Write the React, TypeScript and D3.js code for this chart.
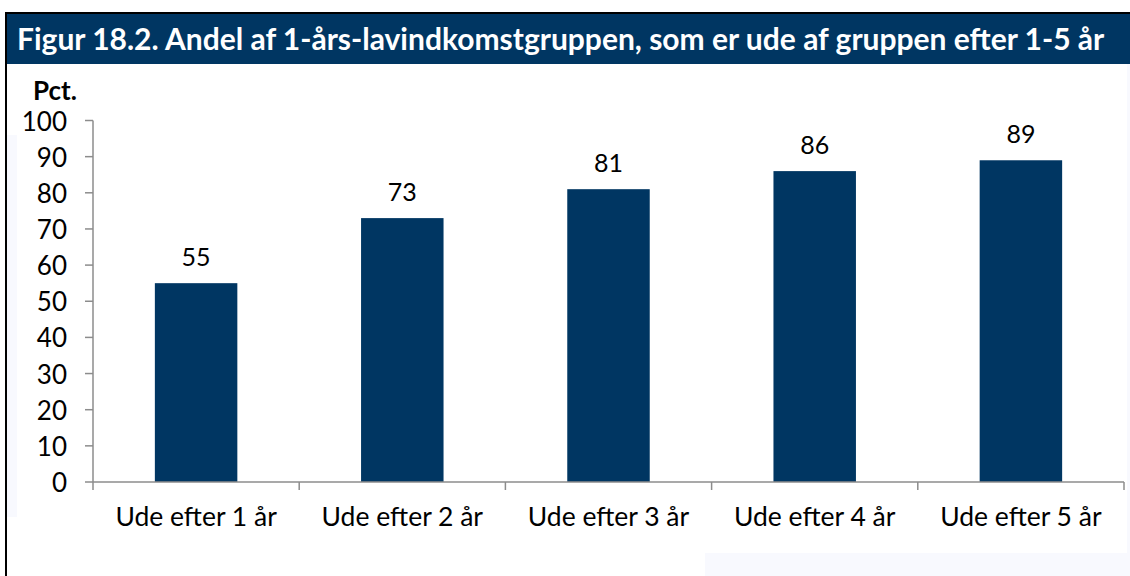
import React from "react";
import * as d3 from "d3";

const title = "Figur 18.2. Andel af 1-års-lavindkomstgruppen, som er ude af gruppen efter 1-5 år";
const unitLabel = "Pct.";
const categories = ["Ude efter 1 år", "Ude efter 2 år", "Ude efter 3 år", "Ude efter 4 år", "Ude efter 5 år"];
const values = [55, 73, 81, 86, 89];
const yTicks = [0, 10, 20, 30, 40, 50, 60, 70, 80, 90, 100];

const W = 1130;
const H = 576;
const BLUE = "#003662";
const AXIS = "#8c8c8c";
const FONT = "Lato, 'Open Sans', sans-serif";

export default function App() {
  const x0 = 93, x1 = 1124, yTop = 120.5, yBot = 482;
  const x = d3.scaleBand<string>().domain(categories).range([x0, x1]).paddingInner(0.6).paddingOuter(0.3);
  const xb = d3.scaleBand<string>().domain(categories).range([x0, x1]);
  const y = d3.scaleLinear().domain([0, 100]).range([yBot, yTop]);

  return (
    <svg width={W} height={H} style={{ position: "absolute", left: 0, top: 0, display: "block" }}>
      <rect x={0} y={0} width={W} height={H} fill="#ffffff" />
      {/* faint background patches */}
      <rect x={7} y={135} width={10} height={382} fill="#f8f9fe" />
      <rect x={705} y={553} width={425} height={23} fill="#f8f9fe" />
      <rect x={1127} y={64} width={3} height={512} fill="#f8f9fe" />
      {/* frame */}
      <rect x={5} y={12} width={W - 5} height={2} fill="#000" />
      <rect x={5} y={12} width={2} height={H - 12} fill="#000" />
      {/* title bar */}
      <rect x={7} y={14} width={W - 7} height={50} fill={BLUE} />
      <text x={17} y={50} fill="#fff" fontFamily={FONT} fontWeight={700} fontSize={30}>{title}</text>
      <text x={33} y={100} fill="#000" fontFamily={FONT} fontWeight={700} fontSize={26}>{unitLabel}</text>

      {/* y axis */}
      <line x1={x0} x2={x0} y1={yTop} y2={yBot} stroke={AXIS} strokeWidth={1.5} />
      {yTicks.map((t) => (
        <g key={t}>
          <line x1={x0 - 8} x2={x0} y1={y(t)} y2={y(t)} stroke={AXIS} strokeWidth={1.5} />
          <text x={67} y={y(t)} textAnchor="end" dominantBaseline="central" fontFamily={FONT} fontSize={26} fill="#000">{t}</text>
        </g>
      ))}

      {/* bars */}
      {categories.map((c, i) => (
        <g key={c}>
          <rect x={x(c)} y={y(values[i])} width={x.bandwidth()} height={yBot - y(values[i])} fill={BLUE} />
          <text x={(x(c) as number) + x.bandwidth() / 2} y={y(values[i]) - 17} textAnchor="middle" fontFamily={FONT} fontSize={25} fill="#000">{values[i]}</text>
        </g>
      ))}

      {/* x axis */}
      <line x1={x0} x2={x1} y1={yBot} y2={yBot} stroke={AXIS} strokeWidth={1.5} />
      {[...categories.map((c) => xb(c) as number), x1].map((v, i) => (
        <line key={i} x1={v} x2={v} y1={yBot} y2={yBot + 8} stroke={AXIS} strokeWidth={1.5} />
      ))}
      {categories.map((c) => (
        <text key={c} x={(xb(c) as number) + xb.bandwidth() / 2} y={526} textAnchor="middle" fontFamily={FONT} fontSize={26.5} fill="#000">{c}</text>
      ))}
    </svg>
  );
}
